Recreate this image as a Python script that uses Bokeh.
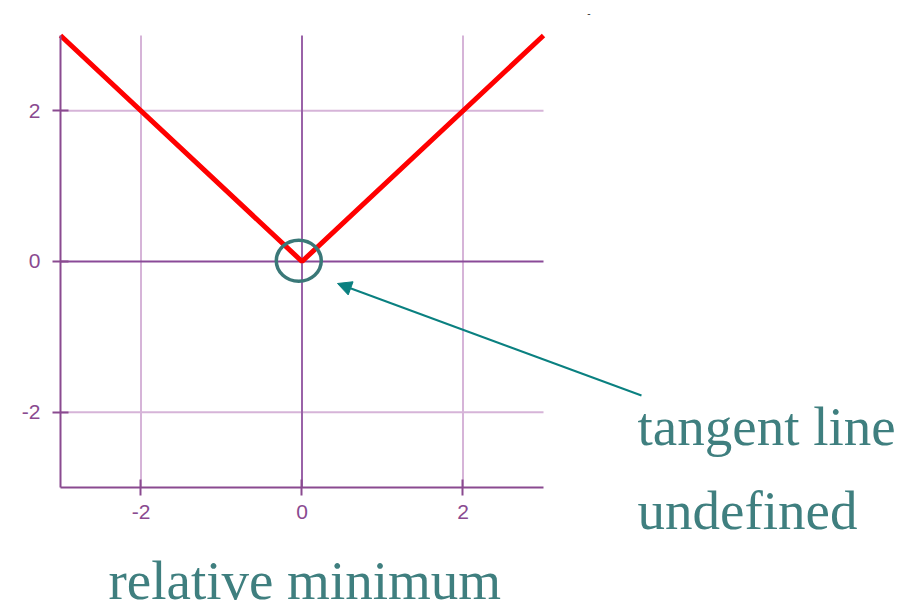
from bokeh.plotting import figure
from bokeh.models import Label, Arrow, NormalHead, FixedTicker
from bokeh.embed import file_html
from bokeh.resources import INLINE

# data: y = |x|
curve_x = [-3, 0, 3]
curve_y = [3, 0, 3]
tick_values = [-2, 0, 2]
tick_labels = {-2: "-2", 0: "0", 2: "2"}
grid_values = [-2, 2]
axis_values = [0]
lo, hi = -3, 3
circle_x = [-0.04]
circle_y = [0.01]

PURPLE = "#8a4a90"
GRID = "#d6b4d8"
TEAL = "#3f7f7f"
ARROW = "#0a8080"

p = figure(width=916, height=613, x_range=(-3.7453, 7.6335), y_range=(-4.6726, 3.4646),
           output_backend="svg", toolbar_location=None, min_border=0)
p.outline_line_color = None
p.background_fill_color = "white"
p.border_fill_color = "white"
p.xgrid.visible = False
p.ygrid.visible = False

# grid lines limited to the plotting box
n = len(grid_values)
p.segment(x0=grid_values, y0=[lo] * n, x1=grid_values, y1=[hi] * n,
          line_color=GRID, line_width=2)
p.segment(x0=[lo] * n, y0=grid_values, x1=[hi] * n, y1=grid_values,
          line_color=GRID, line_width=2)
m = len(axis_values)
p.segment(x0=axis_values, y0=[lo] * m, x1=axis_values, y1=[hi] * m,
          line_color="#9a62a8", line_width=2)
p.segment(x0=[lo] * m, y0=axis_values, x1=[hi] * m, y1=axis_values,
          line_color="#8a4a98", line_width=2)

for ax in (p.xaxis, p.yaxis):
    ax.fixed_location = lo
    ax.bounds = (lo, hi)
    ax.ticker = FixedTicker(ticks=tick_values)
    ax.major_label_overrides = tick_labels
    ax.axis_line_color = PURPLE
    ax.axis_line_width = 2
    ax.major_tick_line_color = PURPLE
    ax.major_tick_line_width = 2
    ax.major_tick_in = 8
    ax.major_tick_out = 8
    ax.minor_tick_line_color = None
    ax.major_label_text_color = PURPLE
    ax.major_label_text_font = "Liberation Sans"
    ax.major_label_text_font_size = "21px"
p.yaxis.major_label_standoff = 12
p.xaxis.major_label_standoff = 10

p.line(curve_x, curve_y, line_color="#ff0000", line_width=5)

p.ellipse(x=circle_x, y=circle_y, width=45, height=41, width_units="screen",
          height_units="screen", fill_color=None, line_color="#3a7878", line_width=3.5)

p.add_layout(Arrow(x_start=4.217, y_start=-1.779, x_end=0.441, y_end=-0.292,
                   line_color=ARROW, line_width=2,
                   end=NormalHead(size=14, fill_color=ARROW, line_color=ARROW)))

for txt, x, y in [("tangent line", 4.168, -2.443 + 0.25),
                  ("undefined", 4.168, -3.571 + 0.27),
                  ("relative minimum", -2.404, -4.54 + 0.30)]:
    p.add_layout(Label(x=x, y=y, text=txt, text_color=TEAL,
                       text_font="Liberation Serif", text_font_size="55px",
                       text_baseline="alphabetic", text_align="left"))

p.add_layout(Label(x=3.565, y=3.30, text="-", text_color="#333333",
                   text_font_size="10px", text_baseline="middle", text_align="center"))

open("out.html", "w").write(file_html(p, INLINE))
